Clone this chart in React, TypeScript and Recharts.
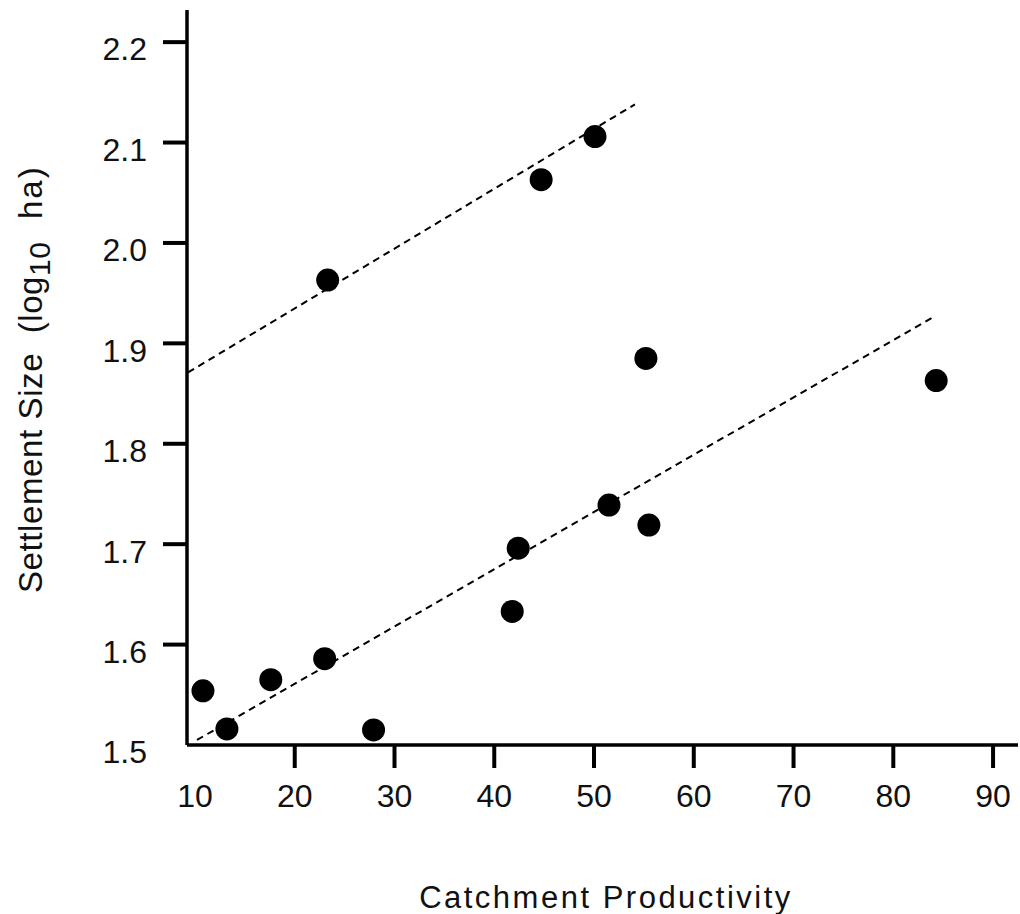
import React from "react";
import {
  ScatterChart, Scatter, XAxis, YAxis, ReferenceLine,
} from "recharts";

// catchment productivity vs settlement size (log10 ha)
const xTicks = [10, 20, 30, 40, 50, 60, 70, 80, 90];
const yTicks = [1.5, 1.6, 1.7, 1.8, 1.9, 2.0, 2.1, 2.2];

const catchment      = [10.8, 13.2, 17.6, 23.0, 23.3, 27.9, 41.8, 42.4, 44.7, 50.1, 51.5, 55.2, 55.5, 84.3];
const settlementSize = [1.554, 1.516, 1.565, 1.586, 1.963, 1.515, 1.633, 1.696, 2.063, 2.106, 1.739, 1.885, 1.719, 1.863];

const upperTrend = [{ x: 9.3, y: 1.871 }, { x: 54.1, y: 2.138 }];
const lowerTrend = [{ x: 10.2, y: 1.505 }, { x: 84.0, y: 1.926 }];

const points = catchment.map((x, i) => ({ x, y: settlementSize[i] }));

const FONT = "Liberation Sans, Arial, Helvetica, sans-serif";
const INK = "#111";
const TICK_SIZE_Y = 24;
const TICK_SIZE_X = 23;
const TICK_MARGIN = 16;

function YTick(props: any) {
  const { x, y, payload } = props;
  const v = payload.value as number;
  const axisX = x + TICK_MARGIN + TICK_SIZE_Y;
  return (
    <g>
      {v !== 1.5 && (
        <line x1={axisX - TICK_SIZE_Y} x2={axisX} y1={y} y2={y} stroke="#000" strokeWidth={4} />
      )}
      <text x={x} y={y + 7} dy="0.355em" textAnchor="end" fontSize={32} fill={INK} fontFamily={FONT}>
        {v.toFixed(1)}
      </text>
    </g>
  );
}

function XTick(props: any) {
  const { x, y, payload } = props;
  const v = payload.value as number;
  const axisY = y - TICK_MARGIN - TICK_SIZE_X;
  return (
    <g>
      {v !== 10 && (
        <line x1={x} x2={x} y1={axisY} y2={axisY + TICK_SIZE_X} stroke="#000" strokeWidth={4} />
      )}
      <text x={x} y={y} dy="0.71em" textAnchor="middle" fontSize={32} fill={INK} fontFamily={FONT}>
        {v}
      </text>
    </g>
  );
}

function YLabel(props: any) {
  const vb = props.viewBox;
  const lx = vb.x + 42;
  const ly = vb.y + vb.height - 152;
  return (
    <text
      x={lx} y={ly}
      transform={`rotate(-90, ${lx}, ${ly})`}
      textAnchor="start" fontSize={33} letterSpacing={0.6}
      fill={INK} fontFamily={FONT} style={{ whiteSpace: "pre" }}
    >
      {"Settlement Size  (log"}
      <tspan dy={8} fontSize={30}>10</tspan>
      <tspan dy={-8} letterSpacing={2}>{"  ha)"}</tspan>
    </text>
  );
}

function XLabel(props: any) {
  const vb = props.viewBox;
  return (
    <text
      x={vb.x + vb.width / 2 + 3.5} y={vb.y + 163}
      textAnchor="middle" fontSize={31} letterSpacing={2.5}
      fill={INK} fontFamily={FONT}
    >
      Catchment Productivity
    </text>
  );
}

const Dot = (props: any) => <circle cx={props.cx} cy={props.cy} r={11.5} fill="#000" />;

export default function App() {
  return (
    <div style={{ position: "absolute", left: 0, top: 0, background: "#fff" }}>
      <ScatterChart width={1020} height={914} margin={{ top: 10, right: 2, bottom: 0, left: 0 }}>
        <XAxis
          type="number" dataKey="x"
          domain={[9.2, 92.5]} ticks={xTicks} allowDataOverflow
          height={169}
          axisLine={{ stroke: "#000", strokeWidth: 3.5 }}
          tickLine={false} tickSize={TICK_SIZE_X} tickMargin={TICK_MARGIN}
          tick={<XTick />}
          interval={0}
          label={<XLabel />}
        />
        <YAxis
          type="number" dataKey="y"
          domain={[1.5, 2.232]} ticks={yTicks} allowDataOverflow
          width={187}
          axisLine={{ stroke: "#000", strokeWidth: 3.5 }}
          tickLine={false} tickSize={TICK_SIZE_Y} tickMargin={TICK_MARGIN}
          tick={<YTick />}
          interval={0}
          label={<YLabel />}
        />
        <ReferenceLine segment={upperTrend} stroke="#000" strokeWidth={2} strokeDasharray="7 5" ifOverflow="visible" />
        <ReferenceLine segment={lowerTrend} stroke="#000" strokeWidth={2} strokeDasharray="7 5" ifOverflow="visible" />
        <Scatter data={points} shape={<Dot />} isAnimationActive={false} />
      </ScatterChart>
    </div>
  );
}
